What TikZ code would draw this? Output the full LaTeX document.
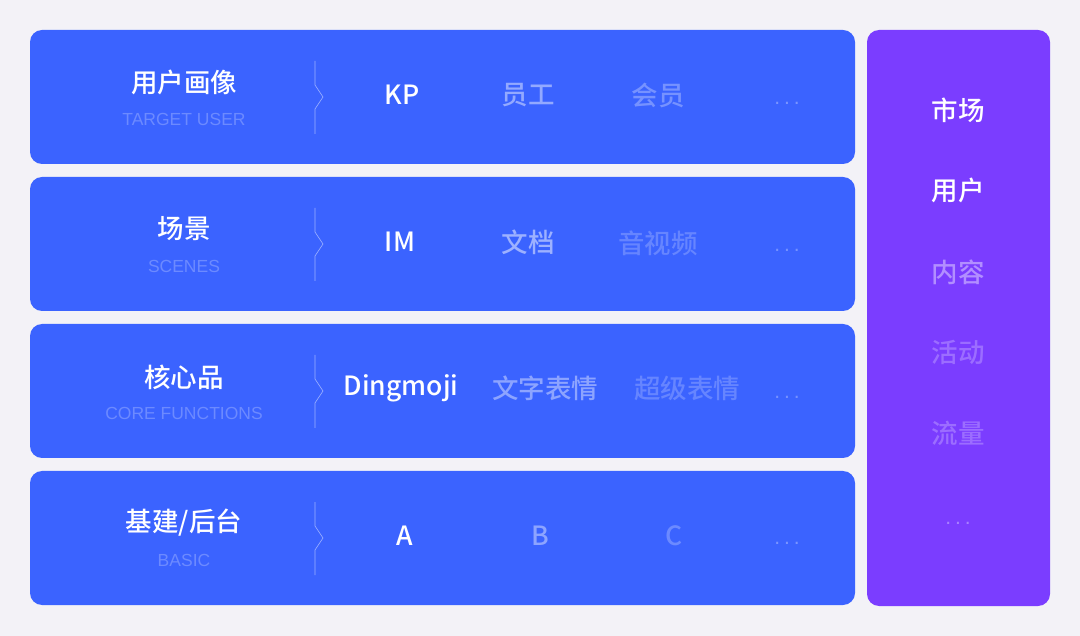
\documentclass[tikz,border=0pt]{standalone}
\usepackage{fontspec}
\setmainfont{Noto Sans CJK SC}
\newfontfamily\medfont{Noto Sans CJK SC Medium}
\newfontfamily\subfont{Liberation Sans}
\definecolor{bgc}{RGB}{243,242,247}
\definecolor{bluec}{RGB}{59,99,255}
\definecolor{purc}{RGB}{123,61,255}
\newcommand{\dotsrow}{.\hspace{4pt}.\hspace{4pt}.}
\tikzset{
  rowbox/.style={fill=bluec, rounded corners=12pt, minimum width=825pt, minimum height=134pt, inner sep=0pt, draw=none},
  sidebox/.style={fill=purc, rounded corners=12pt, minimum width=183pt, minimum height=576pt, inner sep=0pt, draw=none},
  ttl/.style={text=white, font=\medfont\fontsize{26.5}{30}\selectfont, inner sep=0pt},
  sub/.style={text=white, text opacity=0.25, font=\subfont\fontsize{17.5}{20}\selectfont, inner sep=0pt},
  item/.style={text=white, text opacity=#1, font=\medfont\fontsize{26.5}{30}\selectfont, inner sep=0pt},
  item/.default=1,
  dotitem/.style={text=white, text opacity=#1, font=\subfont\fontsize{21}{22}\selectfont, inner sep=0pt},
  sepline/.style={draw=white, draw opacity=0.5, line width=0.6pt},
}
\begin{document}
\begin{tikzpicture}[x=1pt,y=-1pt]
\fill[bgc] (0,0) rectangle (1080,636);
\useasboundingbox (0,0) rectangle (1080,636);
% rows
\node[rowbox] (r1) at (442.5,97) {};
\node[rowbox] (r2) at (442.5,244) {};
\node[rowbox] (r3) at (442.5,391) {};
\node[rowbox] (r4) at (442.5,538) {};
\node[sidebox] (side) at (958.5,318) {};
% separators
\foreach \c in {97,244,391,538}{
  \draw[sepline] (315,\c-36) -- (315,\c-12) -- (323,\c) -- (315,\c+12) -- (315,\c+37);
}
% titles
\node[ttl] (t1) at (184,82) {用户画像};
\node[sub] (s1) at (184,119) {TARGET USER};
\node[ttl] (t2) at (184,229) {场景};
\node[sub] (s2) at (184,266) {SCENES};
\node[ttl] (t3) at (184,377) {核心品};
\node[sub] (s3) at (184,413) {CORE FUNCTIONS};
\node[ttl] (t4) at (184,523) {基建/后台};
\node[sub] (s4) at (184,560) {BASIC};
% row 1 items
\node[item] (a1) at (402,95) {KP};
\node[item=0.45] (a2) at (528,95) {员工};
\node[item=0.3] (a3) at (658,95) {会员};
\node[dotitem=0.32] (a4) at (787,103) {\dotsrow};
% row 2
\node[item] (b1) at (400,242) {IM};
\node[item=0.5] (b2) at (528,242) {文档};
\node[item=0.22] (b3) at (658,243) {音视频};
\node[dotitem=0.3] (b4) at (787,250) {\dotsrow};
% row 3
\node[item] (c1) at (401,388) {Dingmoji};
\node[item=0.42] (c2) at (545,388) {文字表情};
\node[item=0.22] (c3) at (687,388) {超级表情};
\node[dotitem=0.3] (c4) at (787,397) {\dotsrow};
% row 4
\node[item] (d1) at (405,536) {A};
\node[item=0.42] (d2) at (540,536) {B};
\node[item=0.25] (d3) at (674,536) {C};
\node[dotitem=0.32] (d4) at (787,543) {\dotsrow};
% side
\node[item] (p1) at (958,110) {市场};
\node[item] (p2) at (958,190) {用户};
\node[item=0.42] (p3) at (958,272) {内容};
\node[item=0.25] (p4) at (958,352) {活动};
\node[item=0.25] (p5) at (958,433) {流量};
\node[dotitem=0.35] (p6) at (958,523) {\dotsrow};
\end{tikzpicture}
\end{document}
